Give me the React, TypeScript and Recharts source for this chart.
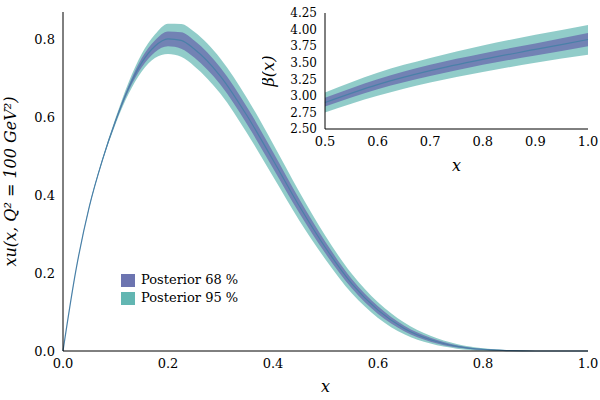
import React from "react";
import { ComposedChart, Area, Line, XAxis, YAxis } from "recharts";

// main panel: x u(x, Q^2 = 100 GeV^2)
const xs = [0, 0.025, 0.05, 0.075, 0.1, 0.125, 0.15, 0.175, 0.2, 0.225, 0.25, 0.3, 0.35, 0.4, 0.45, 0.5, 0.55, 0.6, 0.65, 0.7, 0.75, 0.8, 0.85, 0.9, 0.95, 1.0];
const mean = [0, 0.21, 0.37, 0.49, 0.59, 0.675, 0.74, 0.782, 0.801, 0.797, 0.775, 0.705, 0.605, 0.49, 0.372, 0.265, 0.173, 0.105, 0.058, 0.029, 0.012, 0.004, 0.001, 0, 0, 0];
const lo95 = [0, 0.209, 0.368, 0.486, 0.582, 0.66, 0.717, 0.752, 0.762, 0.755, 0.731, 0.66, 0.56, 0.448, 0.335, 0.235, 0.148, 0.085, 0.043, 0.019, 0.006, 0.001, 0, 0, 0, 0];
const hi95 = [0, 0.211, 0.372, 0.494, 0.598, 0.69, 0.763, 0.812, 0.84, 0.839, 0.819, 0.75, 0.65, 0.532, 0.409, 0.295, 0.198, 0.125, 0.073, 0.039, 0.018, 0.007, 0.002, 0, 0, 0];
const lo68 = [0, 0.21, 0.369, 0.488, 0.586, 0.668, 0.728, 0.767, 0.782, 0.776, 0.753, 0.683, 0.583, 0.469, 0.354, 0.25, 0.161, 0.095, 0.051, 0.024, 0.009, 0.003, 0, 0, 0, 0];
const hi68 = [0, 0.21, 0.371, 0.492, 0.594, 0.682, 0.752, 0.797, 0.82, 0.818, 0.797, 0.727, 0.627, 0.511, 0.39, 0.28, 0.185, 0.115, 0.065, 0.034, 0.015, 0.005, 0.001, 0, 0, 0];

// inset: beta(x)
const bxs = [0.5, 0.6, 0.7, 0.8, 0.9, 1.0];
const bMean = [2.9, 3.17, 3.38, 3.55, 3.7, 3.85];
const bLo95 = [2.75, 3.0, 3.2, 3.36, 3.5, 3.62];
const bHi95 = [3.05, 3.35, 3.57, 3.76, 3.92, 4.07];
const bLo68 = [2.84, 3.1, 3.3, 3.47, 3.61, 3.75];
const bHi68 = [2.97, 3.25, 3.47, 3.64, 3.79, 3.95];

const mainData = xs.map((x, i) => ({ x, mean: mean[i], r95: [lo95[i], hi95[i]], r68: [lo68[i], hi68[i]] }));
const insetData = bxs.map((x, i) => ({ x, mean: bMean[i], r95: [bLo95[i], bHi95[i]], r68: [bLo68[i], bHi68[i]] }));

const C95 = "#62b6b2";
const C68 = "#6c74b0";
const LINE = "#4a80a8";
const font = "'DejaVu Serif', serif";
const tick = { fill: "#000", fontSize: 13, fontFamily: font };
const smallTick = { fill: "#000", fontSize: 12, fontFamily: font };
const labelStyle = { fontStyle: "italic", fontSize: 16, fontFamily: font, fill: "#000" };

export default function App() {
  return (
    <div style={{ position: "absolute", left: 0, top: 0, width: 600, height: 400, background: "#fff" }}>
      <ComposedChart width={600} height={400} data={mainData} margin={{ top: 12, right: 12, bottom: 0, left: 0 }}>
        <XAxis dataKey="x" type="number" domain={[0, 1]} ticks={[0, 0.2, 0.4, 0.6, 0.8, 1]} tickFormatter={(v) => v.toFixed(1)}
          tick={tick} tickLine={false} stroke="#000" height={49}
          label={{ value: "x", position: "insideBottom", offset: 8, style: labelStyle }} />
        <YAxis type="number" domain={[0, 0.87]} ticks={[0, 0.2, 0.4, 0.6, 0.8]} tickFormatter={(v) => v.toFixed(1)}
          tick={tick} tickLine={false} stroke="#000" width={63}
          label={{ value: "xu(x, Q² = 100 GeV²)", angle: -90, position: "insideLeft", offset: 10, style: { ...labelStyle, textAnchor: "middle" } }} />
        <Area dataKey="r95" type="monotone" fill={C95} fillOpacity={0.7} stroke="none" isAnimationActive={false} />
        <Area dataKey="r68" type="monotone" fill={C68} fillOpacity={0.85} stroke="none" isAnimationActive={false} />
        <Line dataKey="mean" type="monotone" stroke={LINE} strokeWidth={1.2} dot={false} isAnimationActive={false} />
      </ComposedChart>

      <div style={{ position: "absolute", left: 121, top: 271, fontFamily: font, fontSize: 13, lineHeight: "18px" }}>
        <div style={{ display: "flex", alignItems: "center" }}>
          <span style={{ width: 14, height: 13, background: C68, display: "inline-block", marginRight: 6 }} />Posterior 68 %
        </div>
        <div style={{ display: "flex", alignItems: "center" }}>
          <span style={{ width: 14, height: 13, background: C95, display: "inline-block", marginRight: 6 }} />Posterior 95 %
        </div>
      </div>

      <div style={{ position: "absolute", left: 262, top: 0 }}>
        <ComposedChart width={338} height={175} data={insetData} margin={{ top: 13, right: 12, bottom: 0, left: 0 }}>
          <XAxis dataKey="x" type="number" domain={[0.5, 1]} ticks={[0.5, 0.6, 0.7, 0.8, 0.9, 1]} tickFormatter={(v) => v.toFixed(1)}
            tick={tick} tickLine={false} stroke="#000" height={46}
            label={{ value: "x", position: "insideBottom", offset: 4, style: labelStyle }} />
          <YAxis type="number" domain={[2.5, 4.25]} ticks={[2.5, 2.75, 3, 3.25, 3.5, 3.75, 4, 4.25]} tickFormatter={(v) => v.toFixed(2)}
            tick={smallTick} tickLine={false} stroke="#000" width={63} interval={0}
            label={{ value: "β(x)", angle: -90, position: "insideLeft", offset: 6, style: { ...labelStyle, textAnchor: "middle" } }} />
          <Area dataKey="r95" type="monotone" fill={C95} fillOpacity={0.7} stroke="none" isAnimationActive={false} />
          <Area dataKey="r68" type="monotone" fill={C68} fillOpacity={0.85} stroke="none" isAnimationActive={false} />
          <Line dataKey="mean" type="monotone" stroke={LINE} strokeWidth={1.2} dot={false} isAnimationActive={false} />
        </ComposedChart>
      </div>
    </div>
  );
}
